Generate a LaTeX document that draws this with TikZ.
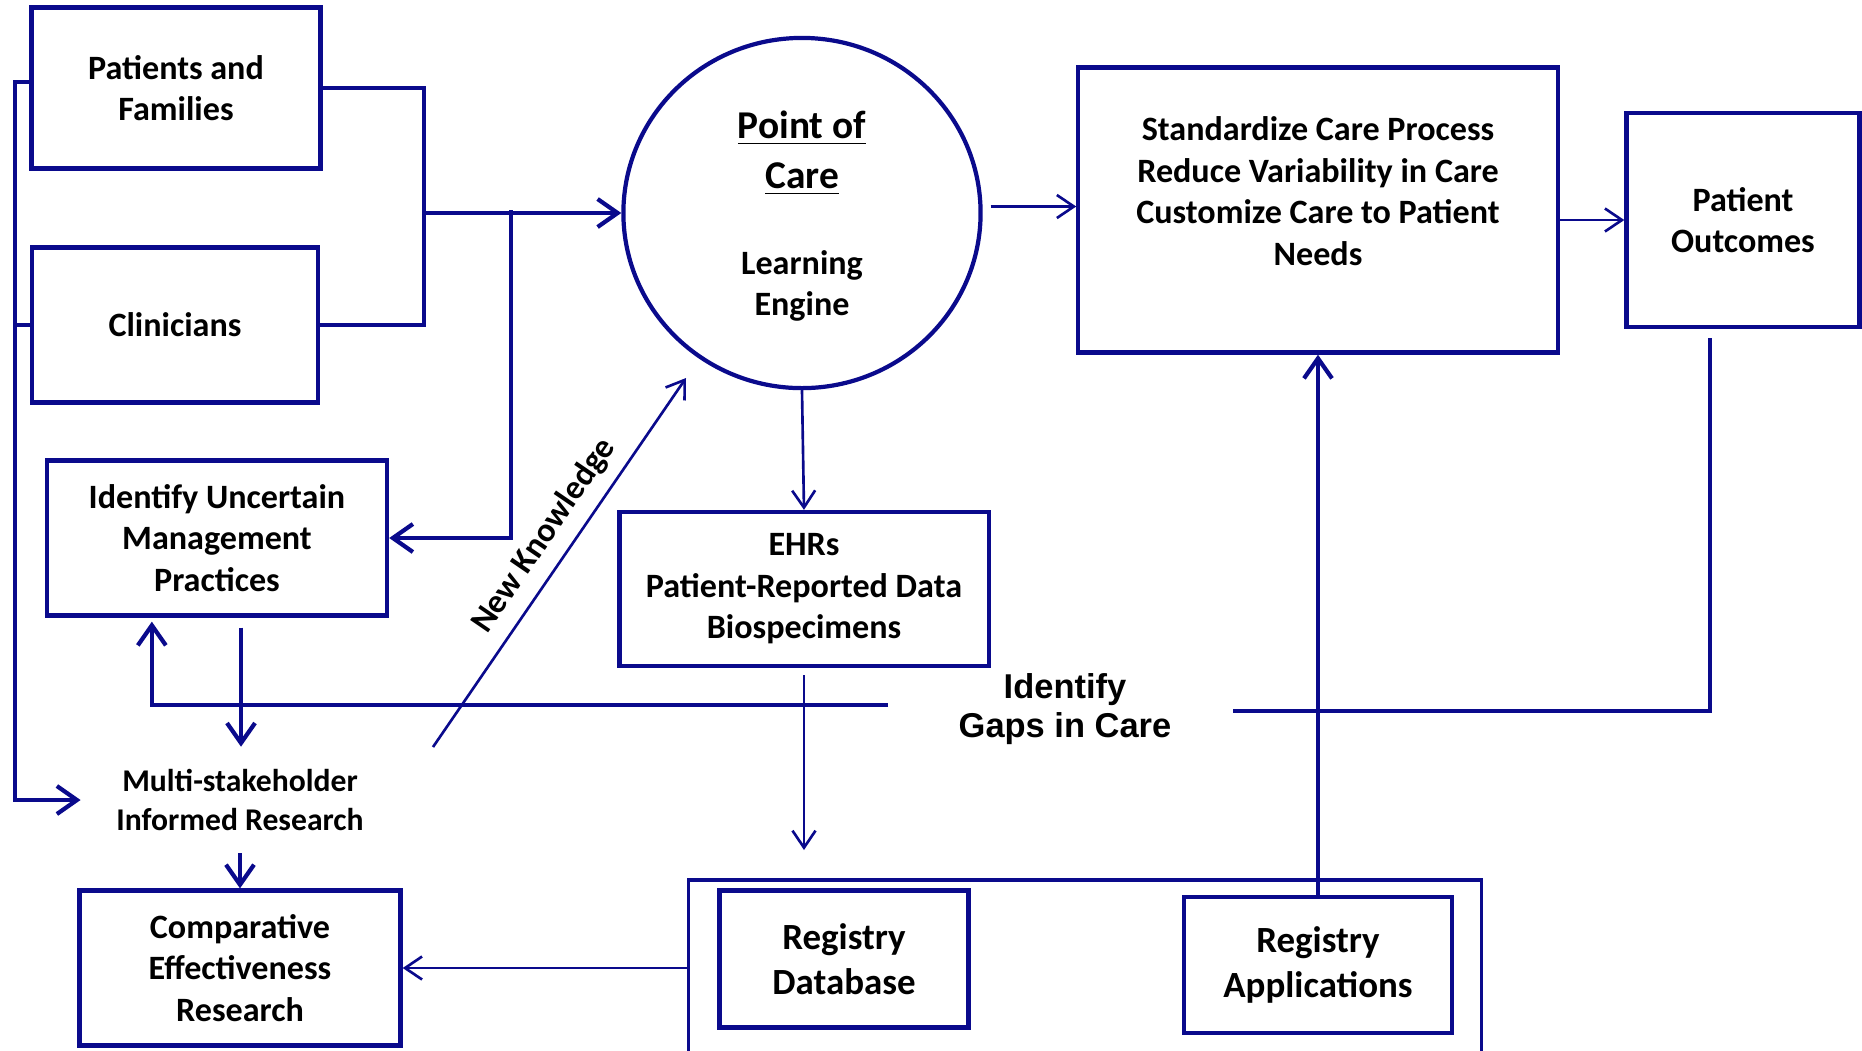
\documentclass[tikz,border=0pt]{standalone}
\usepackage{fontspec}
\setmainfont{Carlito}
\newfontfamily\arialfont{Liberation Sans}
\usepackage{tikz}
\usetikzlibrary{arrows.meta,positioning,calc,shapes.geometric}
\definecolor{mynavy}{RGB}{10,10,140}
\newcommand{\pocText}{{\fontsize{11.2}{14}\selectfont\underline{Point of}}\\[2.4pt]
  {\fontsize{11.2}{14}\selectfont\underline{Care}}\\[12.6pt]
  Learning\\Engine}

\begin{document}
\begin{tikzpicture}[x=0.01cm, y=-0.01cm,
    box/.style={draw=mynavy, line width=1.2pt, align=center,
                font=\fontsize{9.7}{11.8}\selectfont\bfseries},
    bar/.style={draw=mynavy, line width=1.2pt},
    thinline/.style={draw=mynavy, line width=0.75pt},
    bigarrow/.style={-{Straight Barb[length=2mm,width=2.8mm]}},
    smallarrow/.style={-{Straight Barb[length=1.7mm,width=2.3mm]}}]
  \useasboundingbox (0,0) rectangle (1862,1050);

  % stakeholders
  \node[box, minimum width=2.89cm, minimum height=1.61cm] (pf) at (176,88) {Patients and\\Families};
  \node[box, minimum width=2.86cm, minimum height=1.55cm] (clin) at (175,325) {Clinicians};

  % learning engine
  \node[draw=mynavy, line width=1.2pt, ellipse, minimum width=3.57cm, minimum height=3.5cm,
        label={[align=center, yshift=-0.3mm, font=\fontsize{9.7}{11.8}\selectfont\bfseries]center:\pocText}]
    (poc) at (802,213) {};
  \node[box, minimum width=4.79cm, minimum height=2.85cm] (std) at (1318,210)
    {Standardize Care Process\\Reduce Variability in Care\\Customize Care to Patient\\Needs\\[-0.4mm]\mbox{}};
  \node[box, minimum width=2.33cm, minimum height=2.14cm] (po) at (1743,220) {Patient\\Outcomes};

  % research loop
  \node[box, minimum width=3.40cm, minimum height=1.55cm] (idp) at (217,538)
    {Identify Uncertain\\Management\\Practices};
  \node[box, minimum width=3.69cm, minimum height=1.54cm] (ehr) at (804,589)
    {EHRs\\Patient-Reported Data\\Biospecimens};
  \node[align=center, font=\fontsize{9}{11}\selectfont\bfseries,
        inner xsep=3.5mm, inner ysep=2.2mm] (msr) at (240,800)
    {Multi-stakeholder\\Informed Research};
  \node[box, minimum width=3.21cm, minimum height=1.55cm] (cer) at (240,968)
    {Comparative\\Effectiveness\\Research};

  % registry
  \node[draw=mynavy, line width=0.9pt, minimum width=7.93cm, minimum height=2cm] (reg) at (1085,980) {};
  \node[box, font=\fontsize{10.5}{12.8}\selectfont\bfseries,
        minimum width=2.49cm, minimum height=1.37cm] (rdb) at (844,959) {Registry\\Database};
  \node[box, font=\fontsize{10.5}{12.8}\selectfont\bfseries,
        minimum width=2.68cm, minimum height=1.36cm] (rapp) at (1318,965) {Registry\\Applications};

  \node[align=center, font=\arialfont\bfseries\fontsize{9.8}{11.3}\selectfont] (gaps) at (1065,709)
    {Identify\\Gaps in Care};

  \coordinate (brk) at (424,213);
  \coordinate (tap) at (511,210);
  \coordinate (lbus) at (15,800);
  \coordinate (gapL) at (888,705);
  \coordinate (gapR) at (1233,711);
  \coordinate (nkS) at (433,747);
  \coordinate (nkE) at (686,378);
  \coordinate (ehrEnd) at (804,850);

  % connectors
  \draw[bar] (pf.east) -| (brk) |- (clin.east);
  \draw[bar, bigarrow] (brk) -- (poc.west);
  \draw[bar, bigarrow] (tap) |- (idp.east);
  \draw[bar, bigarrow] ([yshift=0.6mm]pf.west) -| (lbus) -- (msr.west);
  \draw[bar] (clin.west) -- (clin.west -| lbus);

  \draw[thinline, smallarrow] ([xshift=0.8mm, yshift=0.65mm]poc.east) -- ([yshift=0.65mm]std.west |- poc.east);
  \draw[thinline, smallarrow] (std.east |- po.west) -- (po.west);
  \draw[bar] ([xshift=-3.3mm, yshift=-0.9mm]po.south) |- (gapR);
  \draw[bar, bigarrow] (gapL) -| ([xshift=10.7mm, yshift=-0.4mm]idp.south west);
  \draw[bar, bigarrow] ([xshift=2.4mm, yshift=-1mm]idp.south) -- ([xshift=2.4mm]idp.south |- msr.north);
  \draw[bar, bigarrow] (msr.south) -- (cer.north);

  \draw[thinline, smallarrow] (nkS) -- (nkE)
    node[pos=0.53, sloped, above, font=\fontsize{9.6}{11}\selectfont\bfseries] {New Knowledge};
  \draw[thinline, smallarrow] (poc.south) -- (ehr.north);
  \draw[thinline, smallarrow] ([yshift=-0.7mm]ehr.south) -- (ehrEnd);
  \draw[thinline, smallarrow] (cer.east -| reg.west) -- (cer.east);
  \draw[bar, bigarrow] (rapp.north) -- (std.south);
\end{tikzpicture}
\end{document}
